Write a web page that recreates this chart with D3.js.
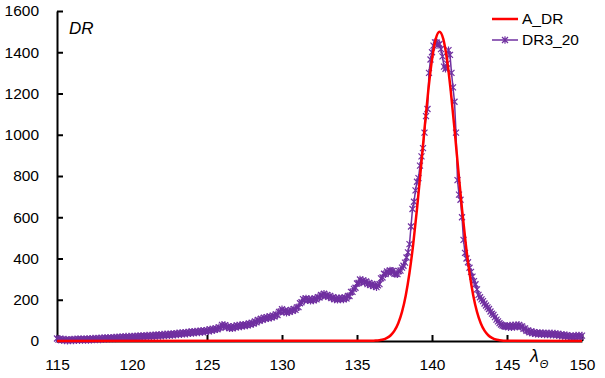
<!DOCTYPE html>
<html>
<head>
<meta charset="utf-8">
<script src="https://cdn.jsdelivr.net/npm/d3@7"></script>
<style>
  html, body { margin: 0; padding: 0; background: #fff; }
  svg { display: block; font-family: "Liberation Sans", Arial, sans-serif; }
</style>
</head>
<body>
<div id="chart"></div>
<script>
/**
 * CONSTANTS AND GLOBALS
 * */
const width = 605,
  height = 378,
  margin = { top: 11, right: 23, bottom: 37, left: 57 };

// tick labels
const xTicks = [115, 120, 125, 130, 135, 140, 145, 150];
const yTicks = [0, 200, 400, 600, 800, 1000, 1200, 1400, 1600];

// DR3_20 : solar longitude 115.0 .. 150.0, one row per degree (0.1 step)
const lambdaStart = 115;
const lambdaStep = 0.1;
const dr3_20 = [
  12, 7, 10, 5, 8, 3, 7, 2, 6, 3,                         // 115
  7, 3, 8, 4, 9, 4, 9, 5, 10, 5,                          // 116
  10, 5, 11, 6, 12, 7, 12, 8, 13, 8,                      // 117
  14, 9, 15, 10, 15, 11, 16, 12, 17, 12,                  // 118
  18, 13, 19, 14, 20, 15, 21, 16, 21, 17,                 // 119
  22, 17, 23, 18, 24, 19, 25, 20, 25, 21,                 // 120
  26, 21, 27, 22, 28, 23, 29, 24, 30, 25,                 // 121
  31, 26, 32, 27, 33, 28, 34, 29, 35, 31,                 // 122
  37, 32, 38, 33, 40, 35, 41, 36, 43, 38,                 // 123
  45, 39, 46, 41, 47, 42, 49, 44, 50, 45,                 // 124
  53, 48, 56, 50, 58, 54, 61, 57, 66, 64,                 // 125
  78, 72, 77, 67, 71, 62, 68, 62, 71, 66,                 // 126
  75, 69, 77, 71, 79, 74, 80, 76, 85, 80,                 // 127
  88, 84, 95, 90, 102, 98, 108, 103, 113, 108,            // 128
  116, 110, 119, 114, 123, 119, 129, 126, 141, 142,       // 129
  154, 145, 147, 137, 145, 141, 151, 146, 155, 151,       // 130
  163, 164, 183, 188, 203, 198, 206, 198, 203, 195,       // 131
  203, 197, 206, 202, 213, 211, 223, 220, 229, 218,       // 132
  223, 214, 219, 208, 212, 202, 208, 200, 208, 202,       // 133
  208, 202, 211, 206, 218, 218, 238, 238, 253, 258,       // 134
  279, 281, 298, 288, 294, 285, 289, 276, 282, 271,       // 135
  277, 266, 272, 261, 270, 276, 304, 308, 326, 324,       // 136
  337, 331, 342, 339, 340, 326, 326, 324, 339, 341,       // 137
  356, 365, 380, 405, 430, 470, 555, 640, 675, 730,       // 138
  772, 790, 850, 895, 935, 1010, 1090, 1125, 1300, 1365,  // 139
  1400, 1432, 1448, 1448, 1436, 1440, 1415, 1380, 1330, 1320, // 140
  1345, 1410, 1387, 1300, 1230, 1160, 1010, 780, 710, 685,    // 141
  600, 490, 427, 400, 382, 355, 335, 312, 290, 275,       // 142
  250, 224, 212, 202, 193, 182, 172, 163, 155, 143,       // 143
  133, 127, 116, 104, 95, 87, 80, 75, 72, 70,             // 144
  74, 67, 75, 67, 76, 68, 77, 70, 78, 69,                 // 145
  71, 59, 61, 49, 51, 42, 46, 38, 43, 35,                 // 146
  40, 34, 39, 33, 38, 32, 37, 32, 37, 31,                 // 147
  37, 30, 36, 29, 34, 26, 31, 25, 30, 23,                 // 148
  28, 21, 24, 19, 24, 19, 26, 19, 27, 20,                 // 149
  26                                                      // 150
];

// A_DR : model curve
const aLambda = [115, 136, 136.25, 136.5, 136.75, 137, 137.25, 137.5, 137.75, 138, 138.25, 138.5, 138.75,
  139, 139.25, 139.5, 139.75, 140, 140.25, 140.5, 140.75, 141, 141.25, 141.5, 141.75, 142, 142.25,
  142.5, 142.75, 143, 143.25, 143.5, 143.75, 144, 144.25, 144.5, 145, 150];
const aDR = [0, 1, 2, 4, 7, 15, 28, 50, 86, 141, 221, 331, 471,
  641, 831, 1028, 1213, 1365, 1465, 1500, 1465, 1365, 1213, 1028, 831, 641, 471,
  331, 221, 141, 86, 50, 28, 15, 7, 4, 1, 0];

const seriesNames = ["A_DR", "DR3_20"];

/**
 * DRAW
 * */
const svg = d3.select("#chart")
  .append("svg")
  .attr("width", width)
  .attr("height", height);

const x = d3.scaleLinear()
  .domain([115, 150])
  .range([margin.left, width - margin.right]);

const y = d3.scaleLinear()
  .domain([0, 1600])
  .range([height - margin.bottom, margin.top]);

// axes
const xAxis = d3.axisBottom(x)
  .tickValues(xTicks)
  .tickFormat(d3.format("d"))
  .tickSizeInner(-6)
  .tickSizeOuter(0)
  .tickPadding(18);

const yAxis = d3.axisLeft(y)
  .tickValues(yTicks)
  .tickFormat(d3.format("d"))
  .tickSizeInner(-6)
  .tickSizeOuter(0)
  .tickPadding(18);

const gx = svg.append("g")
  .attr("transform", `translate(0,${y(0)})`)
  .call(xAxis);

const gy = svg.append("g")
  .attr("transform", `translate(${margin.left},0)`)
  .call(yAxis);

[gx, gy].forEach(g => {
  g.select(".domain").attr("stroke", "#000").attr("stroke-width", 2);
  g.selectAll(".tick line").attr("stroke", "#000").attr("stroke-width", 2);
  g.selectAll(".tick text")
    .attr("fill", "#000")
    .style("font-size", "15.5px")
    .style("font-family", "'Liberation Sans', Arial, sans-serif");
});

// DR3_20 series
const drData = dr3_20.map((v, i) => ({ l: lambdaStart + i * lambdaStep, v: v }));

const line = d3.line()
  .x(d => x(d.l))
  .y(d => y(d.v));

const starPath = "M-3,-3L3,3M-3,3L3,-3M0,-3.8V3.8";

svg.append("path")
  .datum(drData)
  .attr("fill", "none")
  .attr("stroke", "#7030a0")
  .attr("stroke-width", 1.5)
  .attr("d", line);

svg.append("g")
  .selectAll("path")
  .data(drData)
  .join("path")
  .attr("transform", d => `translate(${x(d.l)},${y(d.v)})`)
  .attr("d", starPath)
  .attr("fill", "none")
  .attr("stroke", "#7030a0")
  .attr("stroke-width", 1.2);

// A_DR series
const aData = aLambda.map((l, i) => ({ l: l, v: aDR[i] }));

svg.append("path")
  .datum(aData)
  .attr("fill", "none")
  .attr("stroke", "#ff0000")
  .attr("stroke-width", 2.5)
  .attr("d", line.curve(d3.curveMonotoneX));

// axis titles
svg.append("text")
  .attr("x", 69)
  .attr("y", 34)
  .style("font-size", "17px")
  .style("font-style", "italic")
  .text("DR");

const lam = svg.append("text")
  .attr("x", 530)
  .attr("y", 362)
  .style("font-size", "18px")
  .style("font-style", "italic")
  .text("λ");
lam.append("tspan")
  .attr("dy", 6)
  .attr("dx", 1)
  .style("font-size", "11px")
  .text("Θ");

// legend
const legend = svg.append("g");
const legendY = [19, 40];
const legendColors = ["#ff0000", "#7030a0"];
const legendWidths = [2.5, 1.5];

seriesNames.forEach((name, i) => {
  legend.append("line")
    .attr("x1", 492).attr("x2", 518)
    .attr("y1", legendY[i]).attr("y2", legendY[i])
    .attr("stroke", legendColors[i])
    .attr("stroke-width", legendWidths[i]);
  if (i === 1) {
    legend.append("path")
      .attr("transform", `translate(505,${legendY[i]})`)
      .attr("d", starPath)
      .attr("fill", "none")
      .attr("stroke", legendColors[i])
      .attr("stroke-width", 1.2);
  }
  legend.append("text")
    .attr("x", 522)
    .attr("y", legendY[i])
    .attr("dy", "0.35em")
    .style("font-size", "15.5px")
    .text(name);
});
</script>
</body>
</html>
